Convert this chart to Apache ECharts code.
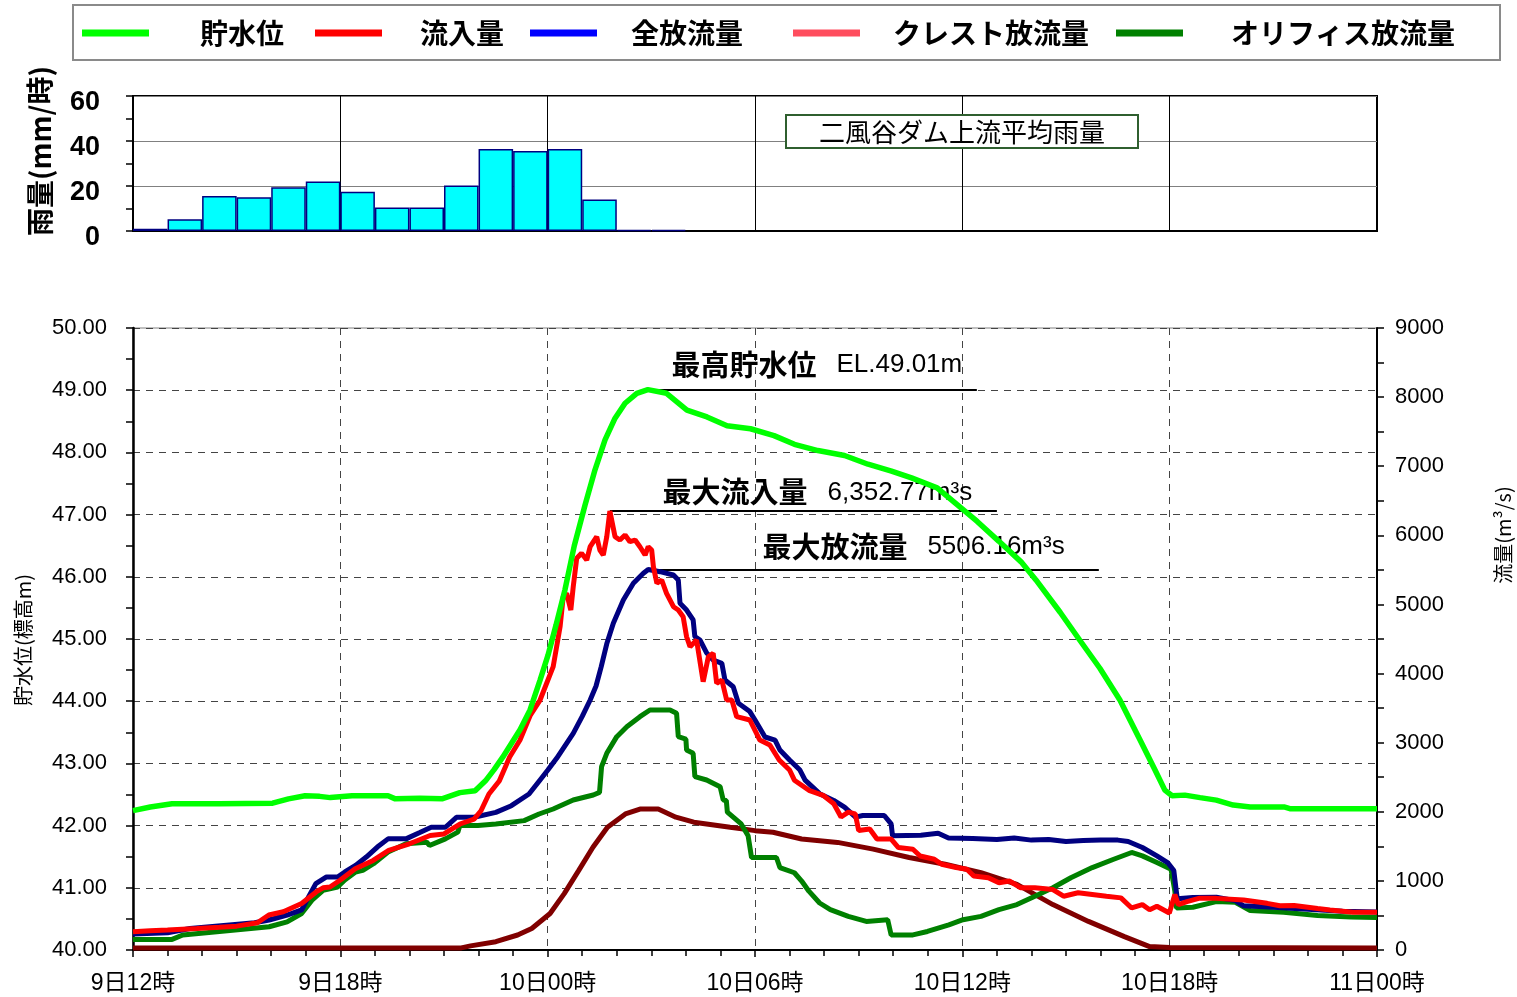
<!DOCTYPE html>
<html>
<head>
<meta charset="utf-8">
<script src="https://cdn.jsdelivr.net/npm/echarts@6/dist/echarts.min.js"></script>
<style>
html, body { margin: 0; padding: 0; background: #fff; }
#chart { width: 1517px; height: 997px; }
</style>
</head>
<body>
<div id="chart"></div>
<script>
// Time axis: hours since 9日12時
const timeTickLabels = ['9日12時', '9日18時', '10日00時', '10日06時', '10日12時', '10日18時', '11日00時'];

// Hourly basin-average rainfall (mm/h), starting 9日12時
const rainHours = Array.from({ length: 36 }, (_, i) => String(i));
const rainfall = [1, 5.2, 15.6, 15, 19.5, 22, 17.5, 10.5, 10.5, 20.2, 36.4, 35.6, 36.4, 14, 0.5, 0.5];

// Peak values stated in the annotations
const peakLevel = 49.01;
const peakInflow = 6352.77;
const peakOutflow = 5506.16;

// 貯水位 (EL. m) : [hour, level]
const waterLevel = [
  [0, 42.24], [0.5, 42.3], [1.13, 42.35], [2.5, 42.35], [4.04, 42.36], [4.5, 42.43], [4.98, 42.48],
  [5.4, 42.47], [5.71, 42.45], [6.34, 42.48], [7.38, 42.48], [7.59, 42.43], [8.3, 42.44], [8.94, 42.43],
  [9.46, 42.53], [9.9, 42.56], [10.2, 42.72], [10.45, 42.9], [10.7, 43.1], [10.95, 43.32], [11.2, 43.54],
  [11.49, 43.86], [11.78, 44.34], [12.01, 44.74], [12.24, 45.22], [12.5, 45.79], [12.77, 46.5],
  [13.08, 47.15], [13.37, 47.72], [13.66, 48.2], [13.95, 48.55], [14.24, 48.79], [14.58, 48.95],
  [14.9, peakLevel], [15.44, 48.95], [16.03, 48.68], [16.61, 48.57], [17.19, 48.43], [17.87, 48.38],
  [18.55, 48.27], [19.14, 48.13], [19.82, 48.03], [20.59, 47.95], [21.27, 47.81], [21.95, 47.7],
  [22.53, 47.59], [23.27, 47.43], [23.85, 47.16], [24.43, 46.89], [25.06, 46.57], [25.7, 46.24],
  [26.13, 45.95], [26.83, 45.43], [27.4, 44.98], [27.98, 44.53], [28.56, 44.02], [29.14, 43.38],
  [29.58, 42.89], [29.86, 42.57], [30.07, 42.48], [30.44, 42.49], [30.88, 42.45], [31.35, 42.41],
  [31.84, 42.33], [32.33, 42.3], [33.31, 42.3], [33.5, 42.27], [36, 42.27]
];

// 流入量 (m3/s) : [hour, flow]
const inflow = [
  [0, 265], [0.5, 280], [1.0, 290], [1.85, 312], [2.5, 330], [3.0, 345], [3.6, 394], [3.93, 506],
  [4.35, 553], [4.88, 672], [5.3, 840], [5.5, 900], [5.7, 911], [6.0, 1013], [6.43, 1176], [6.95, 1296],
  [7.4, 1440], [8.0, 1537], [8.6, 1657], [9.0, 1680], [9.46, 1823], [9.87, 1895], [10.07, 2015],
  [10.3, 2257], [10.6, 2445], [10.9, 2792], [11.2, 3038], [11.5, 3400], [11.78, 3617], [12.16, 4100],
  [12.36, 4678], [12.45, 5112], [12.55, 5161], [12.67, 4919], [12.74, 5257], [12.84, 5667],
  [12.98, 5740], [13.13, 5643], [13.23, 5835], [13.42, 5980], [13.51, 5788], [13.61, 5715],
  [13.71, 5980], [13.8, peakInflow], [13.95, 5980], [14.09, 5932], [14.24, 6005], [14.38, 5908],
  [14.53, 5932], [14.67, 5835], [14.82, 5715], [14.91, 5835], [15.01, 5788], [15.06, 5546],
  [15.16, 5306], [15.3, 5354], [15.44, 5161], [15.64, 4967], [15.78, 4919], [15.92, 4823],
  [16.02, 4533], [16.12, 4389], [16.31, 4485], [16.5, 3882], [16.65, 4244], [16.79, 4293],
  [16.89, 3859], [17.04, 3907], [17.18, 3617], [17.33, 3617], [17.47, 3376], [17.85, 3328],
  [18.14, 3038], [18.43, 2966], [18.7, 2749], [19.0, 2604], [19.14, 2457], [19.56, 2311],
  [19.97, 2238], [20.28, 2117], [20.49, 1924], [20.7, 1994], [20.9, 1970], [21.0, 1728],
  [21.32, 1751], [21.53, 1606], [21.94, 1606], [22.15, 1483], [22.57, 1458], [22.78, 1360],
  [23.19, 1313], [23.4, 1240], [23.82, 1193], [24.13, 1168], [24.33, 1070], [24.75, 1046],
  [25.06, 972], [25.37, 998], [25.69, 900], [26.1, 900], [26.62, 875], [26.93, 778], [27.35, 828],
  [27.76, 803], [28.17, 778], [28.59, 754], [28.9, 608], [29.21, 657], [29.42, 583], [29.63, 632],
  [29.99, 535], [30.15, 803], [30.25, 657], [30.5, 700], [30.87, 750], [31.35, 747], [32.14, 723],
  [32.82, 675], [33.19, 640], [33.6, 645], [34.28, 600], [34.64, 579], [35.3, 545], [36, 545]
];

// 全放流量 (m3/s)
const totalOutflow = [
  [0, 230], [1.0, 250], [1.65, 312], [3.52, 394], [3.94, 434], [4.46, 506], [4.88, 579], [5.08, 768],
  [5.29, 961], [5.6, 1057], [5.92, 1057], [6.13, 1129], [6.44, 1224], [6.75, 1345], [7.07, 1490],
  [7.38, 1608], [7.9, 1608], [8.3, 1700], [8.63, 1776], [9.04, 1776], [9.36, 1920], [9.87, 1920],
  [10.5, 1992], [10.95, 2088], [11.46, 2257], [11.78, 2460], [12.0, 2600], [12.26, 2774],
  [12.74, 3135], [13.0, 3380], [13.23, 3617], [13.4, 3820], [13.55, 4100], [13.71, 4430],
  [13.9, 4727], [14.19, 5064], [14.48, 5306], [14.77, 5451], [14.91, peakOutflow], [15.25, 5474],
  [15.64, 5426], [15.78, 5354], [15.83, 5016], [16.02, 4919], [16.21, 4775], [16.26, 4533],
  [16.41, 4485], [16.6, 4300], [16.79, 4196], [17.04, 4148], [17.13, 3907], [17.37, 3810],
  [17.52, 3570], [17.85, 3450], [18.0, 3328], [18.29, 3082], [18.58, 3038], [18.72, 2894],
  [19.0, 2749], [19.3, 2604], [19.45, 2457], [19.87, 2262], [20.28, 2164], [20.59, 2067],
  [20.91, 1922], [21.12, 1946], [21.74, 1946], [21.94, 1824], [21.98, 1654], [22.8, 1660],
  [23.3, 1690], [23.6, 1620], [24.3, 1615], [25, 1600], [25.5, 1620], [26, 1590], [26.5, 1600],
  [27, 1570], [27.5, 1585], [28, 1590], [28.5, 1590], [28.8, 1570], [29.21, 1483], [29.63, 1362],
  [29.94, 1265], [30.12, 1150], [30.18, 900], [30.22, 740], [30.67, 760], [31.35, 762], [31.9, 714],
  [32.14, 640], [33, 620], [34, 590], [35, 560], [36, 550]
];

// クレスト放流量 (m3/s)
const crestOutflow = [
  [0, 30], [9.5, 30], [9.77, 60], [10.5, 120], [11.13, 217], [11.54, 312], [12.07, 528],
  [12.48, 816], [12.9, 1152], [13.31, 1487], [13.73, 1776], [14.25, 1968], [14.67, 2040],
  [15.2, 2040], [15.71, 1922], [16.23, 1849], [17.28, 1776], [18.0, 1727], [18.52, 1703],
  [19.35, 1606], [20.39, 1557], [21.42, 1460], [22.46, 1338], [23.5, 1240], [24.54, 1118],
  [25.58, 949], [26.62, 657], [27.65, 414], [28.69, 194], [29.42, 49], [30, 35], [36, 30]
];

// オリフィス放流量 (m3/s)
const orificeOutflow = [
  [0, 153], [1.13, 153], [1.44, 217], [3.41, 312], [3.94, 336], [4.46, 408], [4.88, 528],
  [5.18, 720], [5.5, 864], [5.92, 911], [6.13, 1013], [6.44, 1129], [6.65, 1152], [6.96, 1248],
  [7.38, 1418], [7.9, 1537], [8.5, 1560], [8.58, 1512], [9.04, 1608], [9.4, 1705], [9.46, 1800],
  [9.98, 1800], [10.5, 1823], [11.32, 1872], [11.75, 1968], [12.16, 2040], [12.74, 2170],
  [13.32, 2243], [13.5, 2280], [13.56, 2652], [13.71, 2846], [14.0, 3087], [14.29, 3231],
  [14.67, 3376], [14.96, 3473], [15.54, 3473], [15.73, 3425], [15.78, 3087], [16.0, 3050],
  [16.02, 2894], [16.21, 2846], [16.26, 2508], [16.6, 2460], [16.99, 2363], [17.08, 2170],
  [17.17, 2164], [17.2, 1994], [17.6, 1824], [17.8, 1654], [17.9, 1338], [18.62, 1338],
  [18.72, 1193], [19.14, 1118], [19.35, 998], [19.56, 851], [19.87, 680], [20.18, 583],
  [20.7, 486], [21.22, 414], [21.84, 438], [21.94, 218], [22.57, 218], [22.99, 268], [23.61, 365],
  [24.02, 438], [24.54, 486], [25.06, 583], [25.58, 657], [26.1, 778], [26.62, 900], [27.14, 1046],
  [27.76, 1193], [28.38, 1313], [28.9, 1411], [29.21, 1362], [29.63, 1265], [30.04, 1168],
  [30.15, 851], [30.2, 608], [30.67, 619], [31.35, 700], [31.9, 690], [32.33, 571], [33.3, 547],
  [34.28, 500], [35.25, 477], [36, 470]
];

const LATIN = "'Liberation Sans', 'Noto Sans CJK JP', sans-serif";
const CJK = "'Noto Sans CJK JP', 'Liberation Sans', sans-serif";

const chart = echarts.init(document.getElementById('chart'), null, { renderer: 'canvas' });

function legendItem(name, color, left, gap) {
  return {
    data: [{ name: name, itemStyle: { color: color } }],
    left: left, top: 19, padding: 0,
    icon: 'rect', itemWidth: 67, itemHeight: 7,
    selectedMode: false,
    textStyle: { fontFamily: CJK, fontSize: 28, fontWeight: 'bold', color: '#000', padding: [0, 0, 0, gap] }
  };
}

function peakLine(x1, y, x2, head, value, shift, dist) {
  return {
    silent: true,
    symbol: ['none', 'none'],
    lineStyle: { color: '#000', width: 2, type: 'solid' },
    label: {
      show: true,
      position: 'insideMiddleTop',
      distance: dist,
      padding: [0, 0, 0, shift * 2],
      formatter: '{a|' + head + '}{b|' + value + '}',
      rich: {
        a: { fontFamily: CJK, fontSize: 29, fontWeight: 'bold', color: '#000' },
        b: { fontFamily: LATIN, fontSize: 26, color: '#000', padding: [0, 0, 0, 20] }
      }
    },
    data: [[{ coord: [x1, y] }, { coord: [x2, y] }]]
  };
}

const lineBase = { type: 'line', showSymbol: false, symbol: 'none', xAxisIndex: 1, animation: false };

chart.setOption({
  animation: false,
  backgroundColor: '#fff',
  legend: [
    legendItem('貯水位', '#00ff00', 82, 46),
    legendItem('流入量', '#ff0000', 315, 33),
    legendItem('全放流量', '#0000ff', 530, 29),
    legendItem('クレスト放流量', '#ff4d5e', 793, 28),
    legendItem('オリフィス放流量', '#008000', 1116, 43)
  ],
  grid: [
    { left: 133, top: 96, width: 1244, height: 135, show: true, borderColor: '#000', borderWidth: 2 },
    { left: 133, top: 328, width: 1244, height: 622, show: true, borderColor: '#808080', borderWidth: 1 }
  ],
  xAxis: [
    {
      type: 'category', gridIndex: 0, data: rainHours, boundaryGap: true,
      axisLine: { show: true, lineStyle: { color: '#000', width: 2 } },
      axisTick: { show: false }, axisLabel: { show: false },
      splitLine: { show: true, interval: (i) => i % 6 === 0 && i > 0, lineStyle: { color: '#000', width: 1 } }
    },
    {
      type: 'value', gridIndex: 1, min: 0, max: 36, interval: 6,
      axisLine: { show: true, onZero: false, lineStyle: { color: '#000', width: 2 } },
      axisTick: { show: true, length: 7, lineStyle: { color: '#000', width: 1.5 } },
      minorTick: { show: true, splitNumber: 6, length: 6, lineStyle: { color: '#000', width: 1.5 } },
      axisLabel: {
        fontFamily: LATIN, fontSize: 23, color: '#000', margin: 22,
        formatter: (v) => timeTickLabels[Math.round(v / 6)]
      },
      splitLine: { show: true, lineStyle: { color: '#444', width: 1, type: [7, 6] } }
    }
  ],
  yAxis: [
    {
      type: 'value', gridIndex: 0, min: 0, max: 60, interval: 20,
      axisLine: { show: true, lineStyle: { color: '#000', width: 2 } },
      axisTick: { show: true, length: 7, lineStyle: { color: '#000', width: 1.5 } },
      minorTick: { show: true, splitNumber: 2, length: 7, lineStyle: { color: '#000', width: 1.5 } },
      axisLabel: {
        fontFamily: LATIN, fontSize: 27, fontWeight: 'bold', color: '#000', margin: 33,
        verticalAlign: 'top', lineHeight: 14
      },
      splitLine: { show: true, lineStyle: { color: '#808080', width: 1 } }
    },
    {
      type: 'value', gridIndex: 1, min: 40, max: 50, interval: 1, position: 'left',
      axisLine: { show: true, lineStyle: { color: '#000', width: 2.5 } },
      axisTick: { show: true, length: 7, lineStyle: { color: '#000', width: 1.5 } },
      minorTick: { show: true, splitNumber: 2, length: 7, lineStyle: { color: '#000', width: 1.5 } },
      axisLabel: { fontFamily: LATIN, fontSize: 22, color: '#000', margin: 26, formatter: (v) => v.toFixed(2) },
      splitLine: { show: true, lineStyle: { color: '#444', width: 1, type: [7, 6] } }
    },
    {
      type: 'value', gridIndex: 1, min: 0, max: 9000, interval: 1000, position: 'right',
      axisLine: { show: true, lineStyle: { color: '#000', width: 2 } },
      axisTick: { show: true, length: 7, lineStyle: { color: '#000', width: 1.5 } },
      minorTick: { show: true, splitNumber: 2, length: 7, lineStyle: { color: '#000', width: 1.5 } },
      axisLabel: { fontFamily: LATIN, fontSize: 22, color: '#000', margin: 18, formatter: (v) => String(v) },
      splitLine: { show: false }
    }
  ],
  graphic: [
    { type: 'rect', shape: { x: 73, y: 5, width: 1427, height: 55 }, style: { fill: 'none', stroke: '#8a8a8a', lineWidth: 2 }, z: 1 },
    { type: 'rect', shape: { x: 786, y: 115, width: 352, height: 33 }, style: { fill: '#fff', stroke: '#2f5f2f', lineWidth: 2 }, z: 10 },
    { type: 'text', x: 962, y: 132, z: 11, style: { text: '二風谷ダム上流平均雨量', font: "26px 'Noto Sans CJK JP'", fill: '#000', align: 'center', verticalAlign: 'middle' } },
    { type: 'text', x: 40, y: 151, rotation: Math.PI / 2, style: { text: '雨量(mm/時)', font: "bold 28px 'Noto Sans CJK JP'", fill: '#000', align: 'center', verticalAlign: 'middle' } },
    { type: 'text', x: 23, y: 640, rotation: Math.PI / 2, style: { text: '貯水位(標高m)', font: "20px 'Noto Sans CJK JP'", fill: '#000', align: 'center', verticalAlign: 'middle' } },
    { type: 'text', x: 1503, y: 535, rotation: Math.PI / 2, style: { text: '流量(m³/s)', font: "20px 'Noto Sans CJK JP'", fill: '#000', align: 'center', verticalAlign: 'middle' } }
  ],
  series: [
    {
      name: '雨量', type: 'bar', xAxisIndex: 0, yAxisIndex: 0, data: rainfall, barWidth: '100%',
      itemStyle: { color: '#00ffff', borderColor: '#000080', borderWidth: 1.5 }
    },
    Object.assign({}, lineBase, {
      name: 'クレスト放流量', yAxisIndex: 2, data: crestOutflow, z: 3,
      lineStyle: { color: '#800000', width: 5 }, itemStyle: { color: '#800000' }
    }),
    Object.assign({}, lineBase, {
      name: 'オリフィス放流量', yAxisIndex: 2, data: orificeOutflow, z: 4,
      lineStyle: { color: '#008000', width: 5 }, itemStyle: { color: '#008000' }
    }),
    Object.assign({}, lineBase, {
      name: '全放流量', yAxisIndex: 2, data: totalOutflow, z: 5,
      lineStyle: { color: '#000080', width: 5 }, itemStyle: { color: '#000080' },
      markLine: peakLine(14.91, peakOutflow, 27.95, '最大放流量', '5506.16m³s', 40, 8)
    }),
    Object.assign({}, lineBase, {
      name: '流入量', yAxisIndex: 2, data: inflow, z: 6,
      lineStyle: { color: '#ff0000', width: 5 }, itemStyle: { color: '#ff0000' },
      markLine: peakLine(13.8, peakInflow, 25.0, '最大流入量', '6,352.77m³s', 14, 4)
    }),
    Object.assign({}, lineBase, {
      name: '貯水位', yAxisIndex: 1, data: waterLevel, z: 7,
      lineStyle: { color: '#00ff00', width: 5.5 }, itemStyle: { color: '#00ff00' },
      markLine: peakLine(14.87, peakLevel, 24.42, '最高貯水位', 'EL.49.01m', 5, 10)
    })
  ]
});
</script>
</body>
</html>
